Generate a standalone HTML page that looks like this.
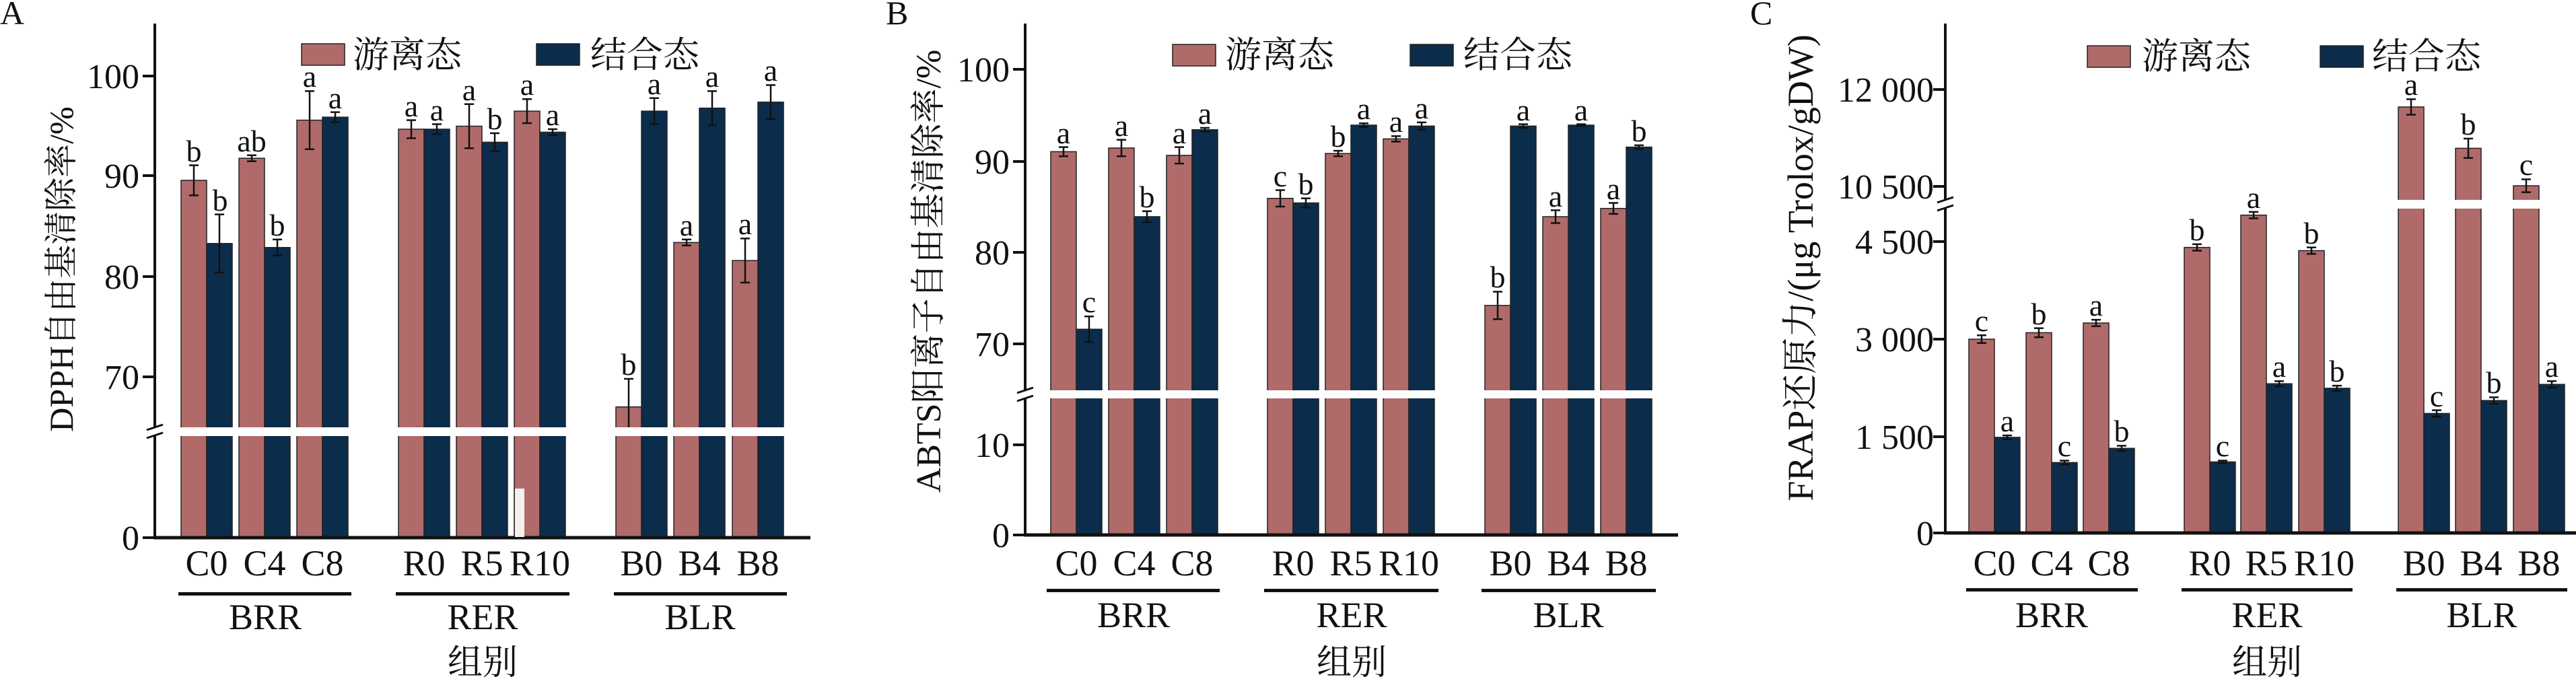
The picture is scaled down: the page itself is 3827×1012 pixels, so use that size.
<!DOCTYPE html>
<html><head><meta charset="utf-8"><style>
html,body{margin:0;padding:0;background:#fff;}
svg{display:block;}
text{font-family:"Liberation Serif","Noto Serif CJK SC",serif;fill:#111;}
.cn{font-family:"Liberation Serif","Noto Serif CJK SC",serif;}
.t{font-size:52px;text-anchor:end;}
.x{font-size:54px;text-anchor:middle;}
.l{font-size:46px;text-anchor:middle;}
.lg{font-size:54px;}
</style></head><body>
<svg id="s" width="3827" height="1012" viewBox="0 0 3827 1012" xmlns="http://www.w3.org/2000/svg">
<g id="shapes"></g>
<!-- Panel A text -->
<text x="0" y="36" font-size="50">A</text>
<text class="t" x="207" y="131">100</text>
<text class="t" x="207" y="279">90</text>
<text class="t" x="207" y="429">80</text>
<text class="t" x="207" y="578">70</text>
<text class="t" x="207" y="817">0</text>
<text class="cn" font-size="50" text-anchor="middle" transform="translate(108,400) rotate(-90)">DPPH自由基清除率/%</text>
<text class="lg cn" x="524" y="100">游离态</text>
<text class="lg cn" x="877" y="100">结合态</text>
<g class="l">
<text x="288" y="240">b</text><text x="327" y="313">b</text>
<text x="374" y="225">ab</text><text x="412" y="350">b</text>
<text x="460" y="129">a</text><text x="498" y="161">a</text>
<text x="611" y="173">a</text><text x="649" y="179">a</text>
<text x="697" y="149">a</text><text x="735" y="192">b</text>
<text x="783" y="141">a</text><text x="821" y="186">a</text>
<text x="934" y="557">b</text><text x="972" y="140">a</text>
<text x="1020" y="350">a</text><text x="1058" y="129">a</text>
<text x="1107" y="348">a</text><text x="1145" y="120">a</text>
</g>
<g class="x">
<text x="307" y="855">C0</text><text x="393" y="855">C4</text><text x="479" y="855">C8</text>
<text x="630" y="855">R0</text><text x="716" y="855">R5</text><text x="802" y="855">R10</text>
<text x="953" y="855">B0</text><text x="1039" y="855">B4</text><text x="1126" y="855">B8</text>
<text x="394" y="935">BRR</text><text x="717" y="935">RER</text><text x="1040" y="935">BLR</text>
<text class="cn" x="717" y="1002" font-size="52">组别</text>
</g>
<!-- Panel B text -->
<text x="1316" y="36" font-size="50">B</text>
<text class="t" x="1500" y="121">100</text>
<text class="t" x="1500" y="258">90</text>
<text class="t" x="1500" y="393">80</text>
<text class="t" x="1500" y="529">70</text>
<text class="t" x="1500" y="679">10</text>
<text class="t" x="1500" y="813">0</text>
<text class="cn" font-size="52" text-anchor="middle" transform="translate(1397,403) rotate(-90)">ABTS阳离子自由基清除率/%</text>
<text class="lg cn" x="1820" y="100">游离态</text>
<text class="lg cn" x="2174" y="100">结合态</text>
<g class="l">
<text x="1580" y="213">a</text><text x="1618" y="464">c</text>
<text x="1666" y="202">a</text><text x="1704" y="308">b</text>
<text x="1752" y="213">a</text><text x="1790" y="184">a</text>
<text x="1902" y="277">c</text><text x="1940" y="289">b</text>
<text x="1988" y="218">b</text><text x="2026" y="177">a</text>
<text x="2074" y="196">a</text><text x="2112" y="176">a</text>
<text x="2225" y="427">b</text><text x="2263" y="179">a</text>
<text x="2311" y="307">a</text><text x="2349" y="179">a</text>
<text x="2397" y="296">a</text><text x="2435" y="210">b</text>
</g>
<g class="x">
<text x="1599" y="855">C0</text><text x="1685" y="855">C4</text><text x="1771" y="855">C8</text>
<text x="1921" y="855">R0</text><text x="2007" y="855">R5</text><text x="2093" y="855">R10</text>
<text x="2244" y="855">B0</text><text x="2330" y="855">B4</text><text x="2416" y="855">B8</text>
<text x="1684" y="932">BRR</text><text x="2008" y="932">RER</text><text x="2330" y="932">BLR</text>
<text class="cn" x="2008" y="1002" font-size="52">组别</text>
</g>
<!-- Panel C text -->
<text x="2600" y="36" font-size="50">C</text>
<text class="t" x="2873" y="151">12 000</text>
<text class="t" x="2873" y="295">10 500</text>
<text class="t" x="2873" y="377">4 500</text>
<text class="t" x="2873" y="522">3 000</text>
<text class="t" x="2873" y="667">1 500</text>
<text class="t" x="2873" y="810">0</text>
<text class="cn" font-size="54" text-anchor="middle" transform="translate(2693,398) rotate(-90)">FRAP还原力/(μg Trolox/gDW)</text>
<text class="lg cn" x="3182" y="102">游离态</text>
<text class="lg cn" x="3524" y="102">结合态</text>
<g class="l">
<text x="2944" y="492">c</text><text x="2982" y="641">a</text>
<text x="3029" y="482">b</text><text x="3067" y="678">c</text>
<text x="3114" y="469">a</text><text x="3152" y="656">b</text>
<text x="3264" y="357">b</text><text x="3302" y="678">c</text>
<text x="3348" y="309">a</text><text x="3386" y="560">a</text>
<text x="3434" y="362">b</text><text x="3472" y="567">b</text>
<text x="3582" y="141">a</text><text x="3620" y="604">c</text>
<text x="3667" y="200">b</text><text x="3705" y="584">b</text>
<text x="3753" y="260">c</text><text x="3791" y="560">a</text>
</g>
<g class="x">
<text x="2963" y="855">C0</text><text x="3048" y="855">C4</text><text x="3133" y="855">C8</text>
<text x="3283" y="855">R0</text><text x="3367" y="855">R5</text><text x="3453" y="855">R10</text>
<text x="3601" y="855">B0</text><text x="3686" y="855">B4</text><text x="3772" y="855">B8</text>
<text x="3048" y="932">BRR</text><text x="3368" y="932">RER</text><text x="3687" y="932">BLR</text>
<text class="cn" x="3368" y="1002" font-size="52">组别</text>
</g>
</svg>
<script>
var NS="http://www.w3.org/2000/svg",G=document.getElementById("shapes");
function el(t,a){var e=document.createElementNS(NS,t);for(var k in a)e.setAttribute(k,a[k]);G.appendChild(e);}
var P="#b06a6a",N="#0b2d4b";
function panel(o){
  for(var i=0;i<o.px.length;i++){
    for(var j=0;j<2;j++){
      var x=o.px[i]+j*38, d=o.d[i][j], top=o.y(d[0],i), c=j?N:P;
      el("rect",{x:x,y:top,width:38,height:o.base-top,fill:c,stroke:"#222","stroke-width":1.5});
      var cx=x+19,t=o.y(d[0]+d[1],i),b=o.y(d[0]-d[1],i);
      el("line",{x1:cx,y1:t,x2:cx,y2:b,stroke:"#111","stroke-width":2.5});
      el("line",{x1:cx-7,y1:t,x2:cx+7,y2:t,stroke:"#111","stroke-width":2.5});
      el("line",{x1:cx-7,y1:b,x2:cx+7,y2:b,stroke:"#111","stroke-width":2.5});
    }
  }
  el("rect",{x:o.ax+3,y:o.g0,width:o.axEnd-o.ax,height:o.g1-o.g0,fill:"#fff"});
  el("line",{x1:o.ax,y1:o.top,x2:o.ax,y2:o.brk-6,stroke:"#111","stroke-width":4});
  el("line",{x1:o.ax,y1:o.brk+6,x2:o.ax,y2:o.base+2,stroke:"#111","stroke-width":4});
  el("line",{x1:o.ax-12,y1:o.brk-2,x2:o.ax+12,y2:o.brk-10,stroke:"#111","stroke-width":3});
  el("line",{x1:o.ax-12,y1:o.brk+10,x2:o.ax+12,y2:o.brk+2,stroke:"#111","stroke-width":3});
  el("line",{x1:o.ax-2,y1:o.base,x2:o.axEnd,y2:o.base,stroke:"#111","stroke-width":5});
  o.ticks.forEach(function(t){el("line",{x1:o.ax-18,y1:t,x2:o.ax,y2:t,stroke:"#111","stroke-width":4});});
  o.groups.forEach(function(g){el("rect",{x:g[0],y:o.gy-2,width:g[1]-g[0],height:5,fill:"#111"});});
  el("rect",{x:o.lg[0],y:o.lg[2],width:64,height:32,fill:P,stroke:"#222","stroke-width":1.5});
  el("rect",{x:o.lg[1],y:o.lg[2],width:64,height:32,fill:N,stroke:"#222","stroke-width":1.5});
}
panel({px:[269,355,441,592,678,764,915,1001,1088],
 d:[[[89.6,1.5],[83.3,2.9]],[[91.8,.3],[82.9,.8]],[[95.6,2.9],[95.9,.5]],[[94.7,.9],[94.7,.5]],[[95.0,2.2],[93.4,.9]],[[96.5,1.2],[94.4,.3]],[[67.0,2.8],[96.5,1.3]],[[83.4,.3],[96.8,1.7]],[[81.6,2.2],[97.4,1.7]]],
 y:function(v){return 113+(100-v)*14.9;},base:799,ax:230,axEnd:1204,top:35,brk:641,g0:635,g1:648,
 ticks:[113,261,411,560,799],groups:[[265,522],[588,846],[912,1169]],gy:882,lg:[448,797,65]});
el("rect",{x:765,y:726,width:14,height:72,fill:"#f4f0f0"});
panel({px:[1561,1647,1733,1883,1969,2055,2206,2292,2378],
 d:[[[91.0,.5],[71.6,1.4]],[[91.4,.9],[83.9,.6]],[[90.6,.9],[93.4,.2]],[[85.9,.9],[85.4,.5]],[[90.8,.3],[93.9,.2]],[[92.4,.3],[93.8,.4]],[[74.2,1.5],[93.8,.2]],[[83.9,.7],[93.9,.1]],[[84.8,.6],[91.5,.2]]],
 y:function(v){return 103+(100-v)*13.6;},base:795,ax:1523,axEnd:2493,top:35,brk:586,g0:580,g1:592,
 ticks:[103,240,375,511,661,795],groups:[[1555,1812],[1878,2137],[2201,2460]],gy:877,lg:[1742,2095,66]});
panel({px:[2925,3010,3095,3245,3329,3415,3563,3648,3734],
 d:[[[3000,60],[1480,30]],[[3100,70],[1090,30]],[[3250,50],[1310,40]],[[4420,50],[1100,20]],[[4920,50],[2310,40]],[[4370,50],[2240,40]],[[11730,120],[1850,50]],[[11090,150],[2050,50]],[[10510,100],[2300,50]]],
 y:function(v){return v>6000?277-(v-10500)*0.096:792-v*0.096;},base:792,ax:2890,axEnd:3827,top:35,brk:303,g0:297,g1:310,
 ticks:[133,277,359,504,649,792],groups:[[2921,3176],[3241,3495],[3560,3814]],gy:876,lg:[3101,3447,68]});
</script>
</body></html>
